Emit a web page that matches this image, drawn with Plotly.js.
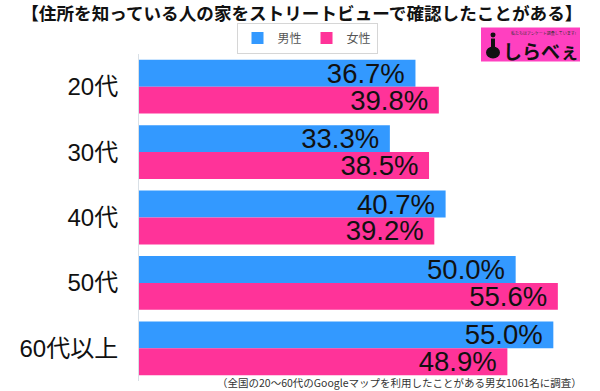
<!DOCTYPE html>
<html>
<head>
<meta charset="utf-8">
<script src="https://cdn.plot.ly/plotly-3.0.1.min.js"></script>
<style>html,body{margin:0;padding:0;background:#fff}#chart{width:600px;height:391px}</style>
</head>
<body>
<div id="chart"></div>
<script>
const categories = ["20代", "30代", "40代", "50代", "60代以上"];
const seriesNames = ["男性", "女性"];
const maleValues = [36.7, 33.3, 40.7, 50.0, 55.0];
const femaleValues = [39.8, 38.5, 39.2, 55.6, 48.9];
const titleText = "【住所を知っている人の家をストリートビューで確認したことがある】";
const noteText = "（全国の20～60代のGoogleマップを利用したことがある男女1061名に調査）";

const numFont = "Liberation Sans, Arial, Noto Sans CJK JP, sans-serif";
const jpFont = "Noto Sans CJK JP, sans-serif";

function barTrace(name, values, color) {
  return {
    type: "bar", orientation: "h", name: name,
    y: categories, x: values,
    marker: {color: color},
    texttemplate: "%{x:.1f}% ",
    textposition: "inside", insidetextanchor: "end",
    textfont: {family: numFont, size: 27.5, color: "#111"},
    constraintext: "none",
    hoverinfo: "skip"
  };
}

const data = [
  barTrace(seriesNames[0], maleValues, "#3399ff"),
  barTrace(seriesNames[1], femaleValues, "#ff3399")
];

// pixel -> paper helpers for decorations
const L = 139, R = 591, T = 53.5, B = 381.5;
const px = v => (v - L) / (R - L);
const py = v => (B - v) / (B - T);

const layout = {
  width: 600, height: 391,
  margin: {l: L, r: 600 - R, t: T, b: 391 - B},
  paper_bgcolor: "#fff", plot_bgcolor: "#fff",
  barmode: "group", bargap: 0.177, bargroupgap: 0,
  showlegend: true,
  title: {
    text: titleText,
    x: 0.503, xref: "container", xanchor: "center",
    y: 1 - 13.5 / 391, yref: "container", yanchor: "middle",
    font: {family: jpFont, size: 17.6, color: "#111", weight: "bold"}
  },
  legend: {
    orientation: "h", x: px(307), xanchor: "center", y: py(37.5), yanchor: "middle",
    bordercolor: "#d6d6d6", borderwidth: 1, bgcolor: "#fff",
    font: {family: jpFont, size: 12, color: "#555"},
    itemwidth: 30, traceorder: "normal"
  },
  xaxis: {range: [0, 60], visible: false, showgrid: false, zeroline: false, fixedrange: true},
  yaxis: {
    autorange: "reversed", type: "category",
    showline: true, linecolor: "#d9e0e6", linewidth: 1,
    ticks: "", ticklabelstandoff: 15,
    tickfont: {family: numFont, size: 24, color: "#111"},
    showgrid: false, zeroline: false, fixedrange: true
  },
  shapes: [
    {type: "rect", xref: "paper", yref: "paper",
     x0: px(481), x1: px(580), y0: py(61), y1: py(27),
     fillcolor: "#ff40c0", line: {width: 0}, layer: "above"},
    {type: "circle", xref: "paper", yref: "paper",
     x0: px(486), x1: px(500), y0: py(58), y1: py(46),
     fillcolor: "#111", line: {width: 0}, layer: "above"},
    {type: "rect", xref: "paper", yref: "paper",
     x0: px(491), x1: px(495), y0: py(50), y1: py(38),
     fillcolor: "#111", line: {width: 0}, layer: "above"},
    {type: "circle", xref: "paper", yref: "paper",
     x0: px(490.5), x1: px(495.5), y0: py(37), y1: py(32),
     fillcolor: "#111", line: {width: 0}, layer: "above"}
  ],
  annotations: [
    {text: "しらべぇ", xref: "paper", yref: "paper", x: px(541), y: py(49.5),
     xanchor: "center", yanchor: "middle", showarrow: false,
     font: {family: jpFont, size: 19, color: "#111", weight: "bold"}},
    {text: "私たちはアンケート調査しています!", xref: "paper", yref: "paper", x: px(543), y: py(32),
     xanchor: "center", yanchor: "middle", showarrow: false,
     font: {family: jpFont, size: 4, color: "#333"}},
    {text: noteText, xref: "paper", yref: "paper", x: px(584), y: py(383.5),
     xanchor: "right", yanchor: "middle", showarrow: false,
     font: {family: jpFont, size: 10.5, color: "#333"}}
  ]
};

Plotly.newPlot("chart", data, layout, {displayModeBar: false, staticPlot: true});
</script>
</body>
</html>
